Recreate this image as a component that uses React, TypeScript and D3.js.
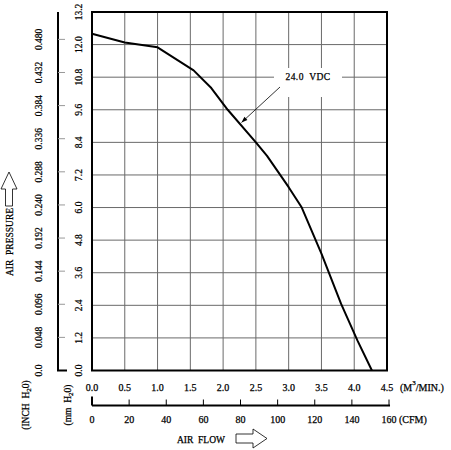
import React from "react";
import * as d3 from "d3";

// Fan performance curve: air flow (m³/min) vs static pressure (mm H2O)
const flowM3 = [0, 0.5, 1.0, 1.55, 1.82, 2.07, 2.5, 2.67, 3.0, 3.2, 3.5, 3.8, 4.05, 4.27];
const pressureMm = [12.4, 12.08, 11.9, 11.05, 10.4, 9.6, 8.4, 7.9, 6.75, 6.0, 4.3, 2.45, 1.1, 0];

const flowTicks = ["0.0", "0.5", "1.0", "1.5", "2.0", "2.5", "3.0", "3.5", "4.0", "4.5"];
const cfmTicks = ["0", "20", "40", "60", "80", "100", "120", "140", "160"];
const mmTicks = ["0.0", "1.2", "2.4", "3.6", "4.8", "6.0", "7.2", "8.4", "9.6", "10.8", "12.0", "13.2"];
const inchTicks = ["0.0", "0.048", "0.096", "0.144", "0.192", "0.240", "0.288", "0.336", "0.384", "0.432", "0.480"];
const seriesLabel = "24.0  VDC";

const MM_PER_INCH = 25.4;
const M3MIN_PER_CFM = 0.0283168;

const W = 451;
const H = 450;
const L = 92, R = 387, T = 12, B = 370.5;
const FONT = "'Liberation Serif', 'DejaVu Serif', serif";
const TXT = { stroke: "#000", strokeWidth: 0.25, style: { whiteSpace: "pre" as const } };

export default function App() {
  const x = d3.scaleLinear().domain([0, 4.5]).range([L, R]);
  const y = d3.scaleLinear().domain([0, 13.2]).range([B, T]);
  const yInch = d3.scaleLinear().domain([0, 13.2 / MM_PER_INCH]).range([B, T]);
  const xCfm = d3.scaleLinear().domain([0, 4.5 / M3MIN_PER_CFM]).range([L, R]);

  const pts: [number, number][] = flowM3.map((f, i) => [f, pressureMm[i]]);
  const line = d3
    .line<[number, number]>()
    .x((d) => x(d[0]))
    .y((d) => y(d[1]));

  const gridX = flowTicks.map(Number).filter((v) => v > 0 && v < 4.5);
  const gridY = mmTicks.map(Number).filter((v) => v > 0 && v < 13.2);

  const axisX = 58;
  const cfmY = 405.5;

  // leader for the series label
  const lead0 = { x: 280, y: 87 };
  const lead1 = { x: 241.5, y: 122.5 };
  const ang = Math.atan2(lead1.y - lead0.y, lead1.x - lead0.x);
  const ah = 6, aw = 2.2;
  const arrowHead = [
    [lead1.x, lead1.y],
    [lead1.x - ah * Math.cos(ang) + aw * Math.sin(ang), lead1.y - ah * Math.sin(ang) - aw * Math.cos(ang)],
    [lead1.x - ah * Math.cos(ang) - aw * Math.sin(ang), lead1.y - ah * Math.sin(ang) + aw * Math.cos(ang)],
  ]
    .map((p) => p.join(","))
    .join(" ");

  return (
    <svg
      width={W}
      height={H}
      style={{ position: "absolute", left: 0, top: 0, background: "#fff" }}
      fontFamily={FONT}
    >
      {/* grid */}
      <g stroke="#6a6a6a" strokeWidth={1}>
        {gridX.map((v) => (
          <line key={"gx" + v} x1={x(v)} x2={x(v)} y1={T} y2={B} />
        ))}
        {gridY.map((v) => (
          <line key={"gy" + v} x1={L} x2={R} y1={y(v)} y2={y(v)} />
        ))}
      </g>

      {/* series label with white backing */}
      <rect x={274} y={68} width={68} height={29} fill="#fff" />
      <text
        x={308}
        y={77}
        fontSize={9.5}
        textAnchor="middle"
        dominantBaseline="central"
        letterSpacing={0.4}
        {...TXT}
      >
        {seriesLabel}
      </text>
      <line x1={lead0.x} y1={lead0.y} x2={lead1.x} y2={lead1.y} stroke="#000" strokeWidth={0.8} />
      <polygon points={arrowHead} fill="#000" />

      {/* curve */}
      <path d={line(pts) || ""} fill="none" stroke="#000" strokeWidth={2} strokeLinejoin="round" />

      {/* frame */}
      <rect x={L} y={T} width={R - L} height={B - T} fill="none" stroke="#000" strokeWidth={2} />

      {/* mm H2O labels */}
      {mmTicks.map((t) => (
        <text
          key={"mm" + t}
          transform={`translate(79,${y(+t)}) rotate(-90)`}
          fontSize={9.5}
          textAnchor="middle"
          dominantBaseline="central"
          {...TXT}
        >
          {t}
        </text>
      ))}

      {/* inch H2O axis */}
      <line x1={axisX} x2={axisX} y1={T} y2={B} stroke="#000" strokeWidth={2} />
      <line x1={axisX - 1} x2={axisX + 9} y1={B} y2={B} stroke="#000" strokeWidth={2} />
      {inchTicks.map((t) => (
        <g key={"in" + t}>
          {+t > 0 && (
            <line x1={axisX} x2={axisX + 7} y1={yInch(+t)} y2={yInch(+t)} stroke="#999" strokeWidth={1} />
          )}
          <text
            transform={`translate(39,${yInch(+t)}) rotate(-90)`}
            fontSize={9.5}
            textAnchor="middle"
            dominantBaseline="central"
            {...TXT}
          >
            {t}
          </text>
        </g>
      ))}

      {/* m3/min labels */}
      {flowTicks.map((t) => (
        <text key={"fx" + t} x={x(+t)} y={387} fontSize={10} textAnchor="middle" dominantBaseline="central" {...TXT}>
          {t}
        </text>
      ))}
      <text x={400} y={387} fontSize={10} dominantBaseline="central" {...TXT}>
        (M<tspan fontSize={7} dy={-4}>3</tspan>
        <tspan dy={4}>/MIN.)</tspan>
      </text>

      {/* CFM axis */}
      <line x1={L} x2={xCfm(160) + 1} y1={cfmY} y2={cfmY} stroke="#000" strokeWidth={2} />
      {cfmTicks.map((t) => (
        <g key={"cfm" + t}>
          <line
            x1={xCfm(+t)}
            x2={xCfm(+t)}
            y1={cfmY}
            y2={+t === 0 ? cfmY - 9 : cfmY - 6}
            stroke="#000"
            strokeWidth={+t === 0 ? 2 : 1}
          />
          <text x={xCfm(+t)} y={419} fontSize={10} textAnchor="middle" dominantBaseline="central" {...TXT}>
            {t}
          </text>
        </g>
      ))}
      <text x={399} y={419} fontSize={10} dominantBaseline="central" {...TXT}>
        (CFM)
      </text>

      {/* axis titles */}
      <text x={225} y={439.5} fontSize={9.5} textAnchor="end" dominantBaseline="central" {...TXT}>
        AIR  FLOW
      </text>
      <path
        d="M236,434 L253,434 L253,429 L267,438.5 L253,448 L253,443 L236,443 Z"
        fill="#fff"
        stroke="#000"
        strokeWidth={0.8}
      />

      <text
        transform="translate(10,242) rotate(-90)"
        fontSize={9.5}
        textAnchor="middle"
        dominantBaseline="central"
        {...TXT}
      >
        AIR  PRESSURE
      </text>
      <path
        d="M5.5,206 L5.5,189 L1,189 L9,172 L17,189 L12.5,189 L12.5,206 Z"
        fill="#fff"
        stroke="#000"
        strokeWidth={0.8}
      />

      <text
        transform="translate(26,405) rotate(-90)"
        fontSize={9.5}
        textAnchor="middle"
        dominantBaseline="central"
        {...TXT}
      >
        (INCH  H<tspan fontSize={7} dy={2.5}>2</tspan>
        <tspan dy={-2.5}>0)</tspan>
      </text>
      <text
        transform="translate(68,405) rotate(-90)"
        fontSize={9.5}
        textAnchor="middle"
        dominantBaseline="central"
        {...TXT}
      >
        (mm  H<tspan fontSize={7} dy={2.5}>2</tspan>
        <tspan dy={-2.5}>0)</tspan>
      </text>
    </svg>
  );
}
